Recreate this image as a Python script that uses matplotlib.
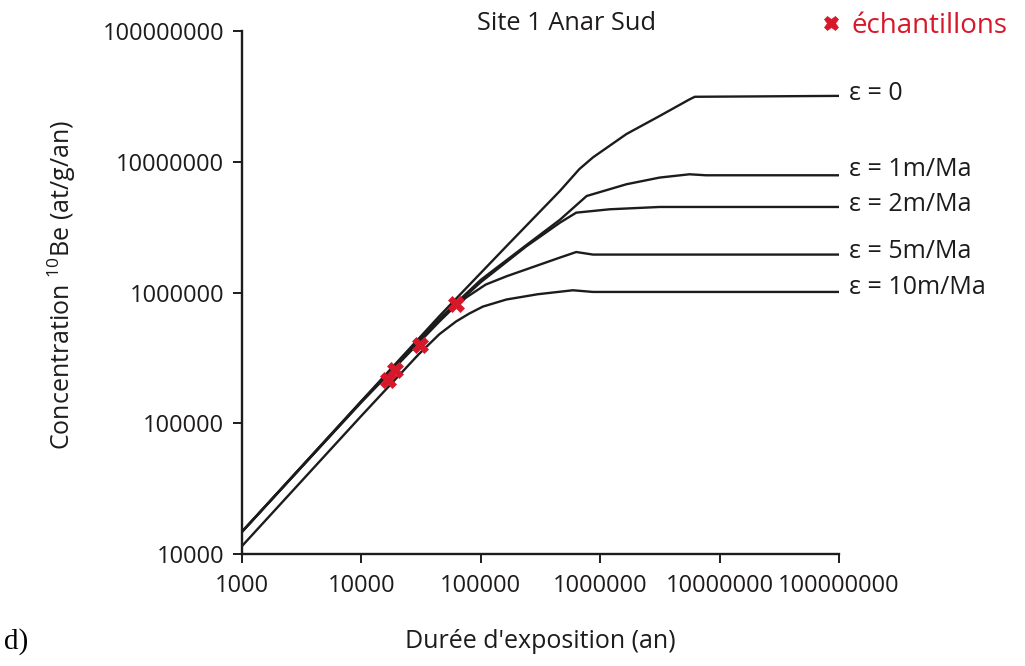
import numpy as np
import matplotlib
matplotlib.use("Agg")
import matplotlib.pyplot as plt
from matplotlib.ticker import FixedLocator, NullLocator, FuncFormatter

plt.rcParams["font.family"] = ["Open Sans", "DejaVu Sans"]
plt.rcParams["mathtext.fontset"] = "custom"
plt.rcParams["mathtext.rm"] = "Open Sans"
plt.rcParams["mathtext.it"] = "Open Sans:italic"

# ----------------------------
# Data
# ----------------------------
curve_labels = ["ε = 0", "ε = 1m/Ma", "ε = 2m/Ma", "ε = 5m/Ma", "ε = 10m/Ma"]

eps0_age = [1e3, 1e4, 4.5e4, 1.64e5, 4.6e5, 6.7e5, 8.7e5, 1.66e6, 3.15e6, 5.6e6, 6.2e6, 2e7, 1e8]
eps0_conc = [1.48e4, 1.48e5, 6.6e5, 2.26e6, 5.98e6, 8.8e6, 1.08e7, 1.63e7, 2.24e7, 3.0e7, 3.14e7, 3.16e7, 3.19e7]

eps1_age = [1e3, 1e4, 4.5e4, 1e5, 2.4e5, 4.6e5, 7.7e5, 1.66e6, 3.15e6, 5.6e6, 7.7e6, 1e8]
eps1_conc = [1.48e4, 1.47e5, 6.3e5, 1.25e6, 2.3e6, 3.6e6, 5.47e6, 6.73e6, 7.57e6, 8.02e6, 7.88e6, 7.88e6]

eps2_age = [1e3, 1e4, 4.5e4, 1e5, 2.4e5, 4.6e5, 6.3e5, 1.2e6, 3.15e6, 1e8]
eps2_conc = [1.48e4, 1.46e5, 6.2e5, 1.2e6, 2.25e6, 3.42e6, 4.08e6, 4.33e6, 4.51e6, 4.51e6]

eps5_age = [1e3, 1e4, 4.5e4, 6e4, 7.6e4, 1.1e5, 1.64e5, 4.6e5, 6.3e5, 8.7e5, 1e8]
eps5_conc = [1.48e4, 1.45e5, 6.0e5, 7.75e5, 9.2e5, 1.15e6, 1.33e6, 1.85e6, 2.04e6, 1.95e6, 1.95e6]

eps10_age = [1e3, 1e4, 3e4, 4.5e4, 6.2e4, 8e4, 1.04e5, 1.64e5, 3e5, 5.9e5, 8.7e5, 1e8]
eps10_conc = [1.15e4, 1.14e5, 3.35e5, 4.8e5, 6.0e5, 6.9e5, 7.8e5, 8.84e5, 9.7e5, 1.04e6, 1.01e6, 1.01e6]

sample_age = [16800, 19300, 31000, 62500]
sample_conc = [2.15e5, 2.55e5, 4.0e5, 8.1e5]

x_ticks = [1e3, 1e4, 1e5, 1e6, 1e7, 1e8]
y_ticks = [1e4, 1e5, 1e6, 1e7, 1e8]

curves = [
    (eps0_age, eps0_conc),
    (eps1_age, eps1_conc),
    (eps2_age, eps2_conc),
    (eps5_age, eps5_conc),
    (eps10_age, eps10_conc),
]
# vertical nudge of each curve label, in points
label_dy = [1.7, 4.3, 1.9, 2.4, 3.1]

RED = "#d7182a"
INK = "#1e1b1c"

# ----------------------------
# Figure
# ----------------------------
fig = plt.figure(figsize=(10.25, 6.66), dpi=100)
ax = fig.add_axes([242 / 1025, 1 - 554 / 666, 597 / 1025, 523 / 666])

for (age, conc), lab, dy in zip(curves, curve_labels, label_dy):
    ax.plot(age, conc, color=INK, lw=1.7, solid_joinstyle="round")
    ax.annotate(lab, xy=(age[-1], conc[-1]), xytext=(7.5, dy),
                textcoords="offset points", ha="left", va="center",
                fontsize=18, color=INK, annotation_clip=False)

ax.plot(sample_age, sample_conc, linestyle="none", marker="X", markersize=12,
        markerfacecolor=RED, markeredgecolor=RED, markeredgewidth=0.5,
        label="échantillons", zorder=5)

ax.set_xscale("log")
ax.set_yscale("log")
ax.set_xlim(1e3, 1e8)
ax.set_ylim(1e4, 1e8)

ax.xaxis.set_major_locator(FixedLocator(x_ticks))
ax.yaxis.set_major_locator(FixedLocator(y_ticks))
ax.xaxis.set_minor_locator(NullLocator())
ax.yaxis.set_minor_locator(NullLocator())
fmt = FuncFormatter(lambda v, pos: f"{int(round(v))}")
ax.xaxis.set_major_formatter(fmt)
ax.yaxis.set_major_formatter(fmt)

for side in ["top", "right"]:
    ax.spines[side].set_visible(False)
for side in ["left", "bottom"]:
    ax.spines[side].set_linewidth(1.7)
    ax.spines[side].set_color(INK)

ax.tick_params(axis="both", direction="out", length=6.5, width=1.4,
               color=INK, labelsize=17, labelcolor=INK)
ax.tick_params(axis="y", pad=6.5)
ax.tick_params(axis="x", pad=8)

fig.text(567 / 1025, 1 - 24 / 666, "Site 1 Anar Sud", ha="center", va="center",
         fontsize=18.3, color=INK)
fig.text(62 / 1025, 1 - 285 / 666, r"Concentration $^{10}$Be (at/g/an)",
         rotation=90, ha="center", va="center", fontsize=18, color=INK)
fig.text(540 / 1025, 1 - 642 / 666, "Durée d'exposition (an)", ha="center",
         va="center", fontsize=18, color=INK)
fig.text(4 / 1025, 1 - 642 / 666, "d)", ha="left", va="center",
         fontsize=21, family="Liberation Serif", color="black")

ax.legend(loc="center left", bbox_to_anchor=(818 / 1025, 1 - 26 / 666),
          bbox_transform=fig.transFigure, frameon=False, handlelength=0.9,
          handletextpad=0.3, borderpad=0, borderaxespad=0, markerscale=0.85,
          labelcolor=RED, fontsize=20)

fig.savefig("out.png", dpi=100)
